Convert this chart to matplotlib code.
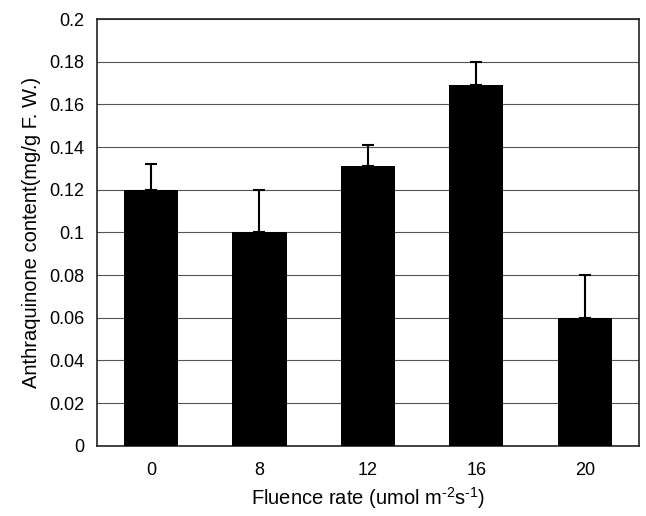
import matplotlib
matplotlib.use("Agg")
import matplotlib.pyplot as plt
from matplotlib.ticker import FuncFormatter, MultipleLocator

categories = ["0", "8", "12", "16", "20"]
values = [0.120, 0.100, 0.131, 0.169, 0.060]
errors = [0.012, 0.020, 0.010, 0.011, 0.020]

plt.rcParams['font.family'] = ['Liberation Sans', 'DejaVu Sans']
plt.rcParams['mathtext.fontset'] = 'custom'
plt.rcParams['mathtext.rm'] = 'Liberation Sans'
plt.rcParams['mathtext.it'] = 'Liberation Sans'

fig = plt.figure(figsize=(6.46, 5.16), dpi=100)
ax = fig.add_axes([0.150, 0.136, 0.839, 0.827])

x = list(range(len(categories)))
ax.bar(x, values, width=0.5, color='black', zorder=3)
ax.errorbar(x, values, yerr=[[0]*len(errors), errors], fmt='none',
            ecolor='black', elinewidth=1.5, capsize=4.5, capthick=1.5, zorder=4)

ax.set_xlim(-0.5, len(categories) - 0.5)
ax.set_ylim(0, 0.2)
ax.set_xticks(x)
ax.set_xticklabels(categories)
ax.yaxis.set_major_locator(MultipleLocator(0.02))
ax.yaxis.set_major_formatter(FuncFormatter(lambda v, p: f"{v:.2f}".rstrip('0').rstrip('.') if v != 0 else "0"))
ax.grid(axis='y', color='#555555', linewidth=0.8, zorder=0)
ax.tick_params(axis='y', length=0, labelsize=13, pad=9)
ax.tick_params(axis='x', length=0, labelsize=13, pad=12)
for s in ax.spines.values():
    s.set_linewidth(1.2)
    s.set_color('#222222')

ax.set_xlabel("Fluence rate (umol m$^{\\mathrm{\u2010}2}$s$^{\\mathrm{\u2010}1}$)", fontsize=14.5, labelpad=4)
ax.set_ylabel("Anthraquinone content(mg/g F. W.)", fontsize=14.5, labelpad=6)

fig.savefig("out.png", dpi=100)
